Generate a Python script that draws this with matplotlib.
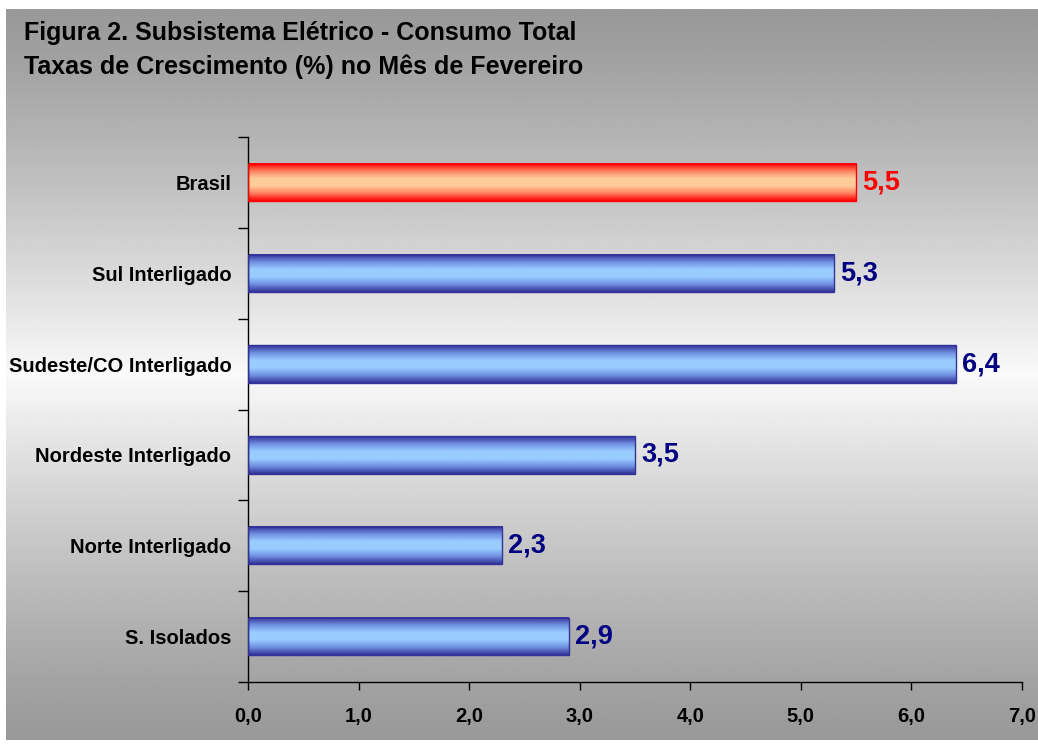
import numpy as np
import matplotlib.pyplot as plt
from matplotlib.colors import LinearSegmentedColormap
from matplotlib.patches import Rectangle

plt.rcParams['font.family'] = ['Liberation Sans', 'DejaVu Sans']
plt.rcParams['font.weight'] = 'bold'

# taxas de crescimento (%) - fevereiro
regioes = ['Brasil', 'Sul Interligado', 'Sudeste/CO Interligado',
           'Nordeste Interligado', 'Norte Interligado', 'S. Isolados']
taxas = [5.5, 5.3, 6.4, 3.5, 2.3, 2.9]
rotulos = ['5,5', '5,3', '6,4', '3,5', '2,3', '2,9']
xticks = [0, 1, 2, 3, 4, 5, 6, 7]
xlabels = ['0,0', '1,0', '2,0', '3,0', '4,0', '5,0', '6,0', '7,0']

W, H = 1038, 744
fig = plt.figure(figsize=(W / 100, H / 100), dpi=100)
fig.patch.set_facecolor('white')

# fundo cinza com degradê vertical (escuro nas bordas, claro no meio)
bg = fig.add_axes([6 / W, 4 / H, 1 - 6 / W, 1 - 13 / H])
bg.set_axis_off()
t = np.linspace(0, 1, 256)
g = 0.60 + 0.38 * (1 - np.abs(2 * t - 1.0)) ** 1.2
bg.imshow(g[:, None], cmap='gray', vmin=0, vmax=1, aspect='auto',
          extent=[0, 1, 0, 1], interpolation='bilinear')
bg.set_xlim(0, 1)
bg.set_ylim(0, 1)

fig.text(24 / W, 1 - 33 / H, 'Figura 2. Subsistema Elétrico - Consumo Total',
         fontsize=18, fontweight='bold', va='center', ha='left')
fig.text(24 / W, 1 - 67 / H, 'Taxas de Crescimento (%) no Mês de Fevereiro',
         fontsize=18, fontweight='bold', va='center', ha='left')

ax = fig.add_axes([248 / W, 62 / H, (1022 - 248) / W, (682 - 137) / H])
ax.patch.set_alpha(0)

azul = LinearSegmentedColormap.from_list('azul', ['#333399', '#6f8fe0', '#99ccff', '#99ccff', '#6f8fe0', '#333399'])
verm = LinearSegmentedColormap.from_list('verm', ['#ff0000', '#ff8060', '#ffcc99', '#ffcc99', '#ff8060', '#ff0000'])
grad = np.linspace(0, 1, 64)[:, None]

n = len(regioes)
alt = 0.41
for i, (nome, v, rot) in enumerate(zip(regioes, taxas, rotulos)):
    y = n - 1 - i
    cm = verm if i == 0 else azul
    borda = '#ff0000' if i == 0 else '#333399'
    cor_txt = '#ff0000' if i == 0 else '#000080'
    ax.imshow(grad, cmap=cm, aspect='auto', extent=[0, v, y - alt / 2, y + alt / 2],
              interpolation='bilinear', zorder=2)
    ax.add_patch(Rectangle((0, y - alt / 2), v, alt, fill=False, edgecolor=borda,
                           lw=1.0, zorder=3))
    ax.text(v + 0.055, y, rot, color=cor_txt, fontsize=19.5, fontweight='bold',
            va='center', ha='left')

ax.set_xlim(0, 7)
ax.set_ylim(-0.5, n - 0.5)
ax.set_xticks(xticks)
ax.set_xticklabels(xlabels, fontsize=14.5, fontweight='bold')
ax.set_yticks(np.arange(-0.5, n, 1.0))
ax.set_yticklabels([])
ax.set_yticks(np.arange(n), minor=True)
ax.set_yticklabels(regioes[::-1], minor=True, fontsize=14.5, fontweight='bold')
ax.tick_params(axis='y', which='minor', length=0, pad=12)
ax.tick_params(axis='y', which='major', length=7, width=1, direction='out')
ax.tick_params(axis='x', length=6, width=1, direction='out', pad=12)
for s in ['top', 'right']:
    ax.spines[s].set_visible(False)
ax.spines['left'].set_linewidth(1)
ax.spines['bottom'].set_linewidth(1)

fig.savefig('out.png', dpi=100)
